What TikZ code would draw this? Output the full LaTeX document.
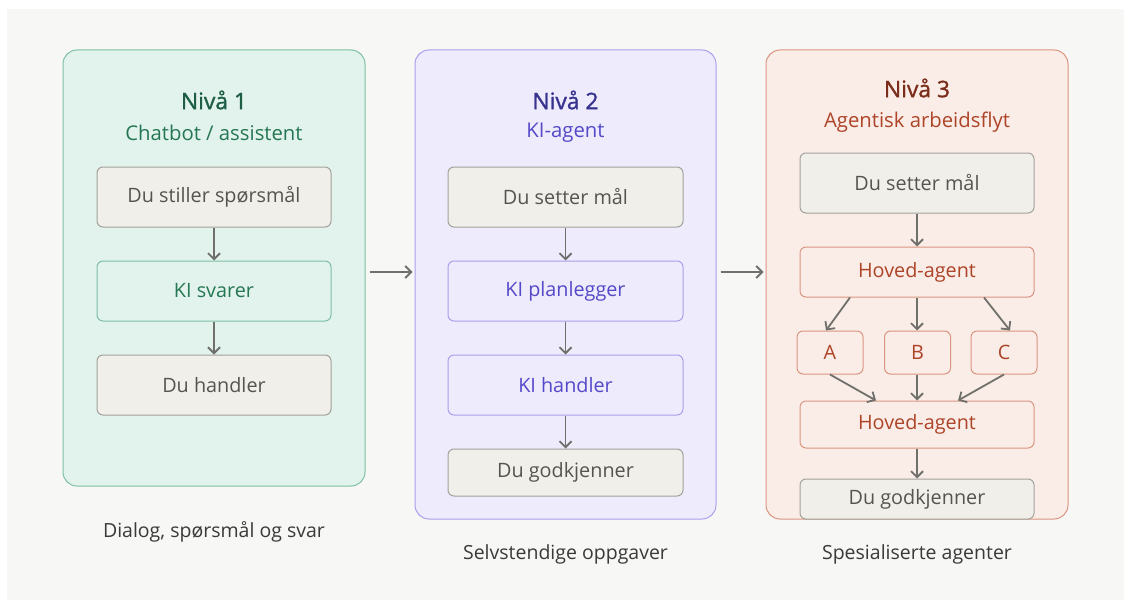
\documentclass[tikz,border=0pt]{standalone}
\usepackage{fontspec}
\setmainfont{Open Sans}
\newfontfamily\titlefont[FakeBold=1.3]{Open Sans}
\usetikzlibrary{arrows.meta,positioning}

\definecolor{bggray}{HTML}{F7F7F5}
\definecolor{arrowgray}{HTML}{6F706B}
\definecolor{boxgray}{HTML}{F1EFEA}
\definecolor{boxgrayline}{HTML}{A3A19B}
\definecolor{boxgraytext}{HTML}{55554F}
\definecolor{captext}{HTML}{3A3A38}
\definecolor{grnfill}{HTML}{E1F3EC}
\definecolor{grnline}{HTML}{7DBFA5}
\definecolor{grntitle}{HTML}{1E5E45}
\definecolor{grntext}{HTML}{257653}
\definecolor{purfill}{HTML}{EDEBFC}
\definecolor{purline}{HTML}{A8A0EA}
\definecolor{purtitle}{HTML}{38328F}
\definecolor{purtext}{HTML}{5549C8}
\definecolor{redfill}{HTML}{FAECE7}
\definecolor{redline}{HTML}{D9957F}
\definecolor{redtitle}{HTML}{7B2D1B}
\definecolor{redtext}{HTML}{AD4428}

\tikzset{
  panel/.style={draw, line width=1pt, rounded corners=14pt, minimum width=302pt, inner sep=0pt},
  stepbox/.style={draw, line width=1pt, rounded corners=6pt, minimum width=234pt, minimum height=60pt,
    inner sep=0pt, font=\fontsize{19.8}{23}\selectfont},
  graybox/.style={stepbox, fill=boxgray, draw=boxgrayline, text=boxgraytext},
  ttl/.style={font=\titlefont\fontsize{22.8}{27}\selectfont},
  sub/.style={font=\fontsize{20.3}{24}\selectfont},
  caption/.style={font=\fontsize{19.5}{23}\selectfont, text=captext},
  arr/.style={draw=arrowgray, line width=1.8pt, -{Straight Barb[length=6pt,width=12pt,line width=1.8pt]}}
}

\begin{document}
\begin{tikzpicture}[x=1pt,y=-1pt]
\useasboundingbox (0,0) rectangle (1131,602);
\fill[white] (0,0) rectangle (1131,602);
\fill[bggray] (7,9) rectangle (1124,600);

% level 1
\node[panel, fill=grnfill, draw=grnline, minimum height=436pt] (p1) at (214,268) {};
\node[ttl, text=grntitle] (t1) at (214,100) {Nivå 1};
\node[sub, text=grntext] (s1) at (214,133) {Chatbot / assistent};
\node[graybox] (ask) at (214,197) {Du stiller spørsmål};
\node[stepbox, fill=grnfill, draw=grnline, text=grntext] (answer) at (214,291) {KI svarer};
\node[graybox] (act) at (214,385) {Du handler};
\draw[arr] (ask) -- (answer);
\draw[arr] (answer) -- (act);
\node[caption] (c1) at (214,532) {Dialog, spørsmål og svar};

% level 2
\node[panel, fill=purfill, draw=purline, minimum width=301pt, minimum height=469pt] (p2) at (565.5,284.5) {};
\node[ttl, text=purtitle] (t2) at (565.5,100) {Nivå 2};
\node[sub, text=purtext] (s2) at (565.5,133) {KI-agent};
\node[graybox, minimum width=235pt] (goal2) at (565.5,197) {Du setter mål};
\node[stepbox, minimum width=235pt, fill=purfill, draw=purline, text=purtext] (plan) at (565.5,291) {KI planlegger};
\node[stepbox, minimum width=235pt, fill=purfill, draw=purline, text=purtext] (do2) at (565.5,385) {KI handler};
\node[graybox, minimum width=235pt, minimum height=47pt] (ok2) at (565.5,472.5) {Du godkjenner};
\draw[arr] (goal2) -- (plan);
\draw[arr] (plan) -- (do2);
\draw[arr] (do2) -- (ok2);
\node[caption] (c2) at (565.5,554) {Selvstendige oppgaver};

% level 3
\node[panel, fill=redfill, draw=redline, minimum height=469pt] (p3) at (917,284.5) {};
\node[ttl, text=redtitle] (t3) at (917,88) {Nivå 3};
\node[sub, text=redtext] (s3) at (917,122) {Agentisk arbeidsflyt};
\node[graybox] (goal3) at (917,183) {Du setter mål};
\node[stepbox, minimum height=50pt, fill=redfill, draw=redline, text=redtext] (main1) at (917,272) {Hoved-agent};
\node[stepbox, minimum width=66pt, minimum height=43pt, fill=redfill, draw=redline, text=redtext] (a) at (830,352.5) {A};
\node[stepbox, minimum width=66pt, minimum height=43pt, fill=redfill, draw=redline, text=redtext] (b) at (917.5,352.5) {B};
\node[stepbox, minimum width=66pt, minimum height=43pt, fill=redfill, draw=redline, text=redtext] (c) at (1004,352.5) {C};
\node[stepbox, minimum height=47pt, fill=redfill, draw=redline, text=redtext] (main2) at (917,424.5) {Hoved-agent};
\node[graybox, minimum height=40pt] (ok3) at (917,499) {Du godkjenner};
\draw[arr] (goal3) -- (main1);
\draw[arr] ([xshift=-67pt]main1.south) -- ([xshift=-4pt]a.north);
\draw[arr] (main1.south) -- (main1.south |- b.north);
\draw[arr] ([xshift=67pt]main1.south) -- ([xshift=6pt]c.north);
\draw[arr] (a.south) -- ([xshift=-41pt]main2.north);
\draw[arr] (main1.south |- b.south) -- (main2.north);
\draw[arr] (c.south) -- ([xshift=41pt]main2.north);
\draw[arr] (main2) -- (ok3);
\node[caption] (c3) at (917,554) {Spesialiserte agenter};

% between levels
\draw[arr] ([xshift=4pt,yshift=-4pt]p1.east) -- ([xshift=-2pt,yshift=-4pt]p1.east -| p2.west);
\draw[arr] ([xshift=4pt,yshift=-4pt]p1.east -| p2.east) -- ([xshift=-2pt,yshift=-4pt]p1.east -| p3.west);
\end{tikzpicture}
\end{document}
